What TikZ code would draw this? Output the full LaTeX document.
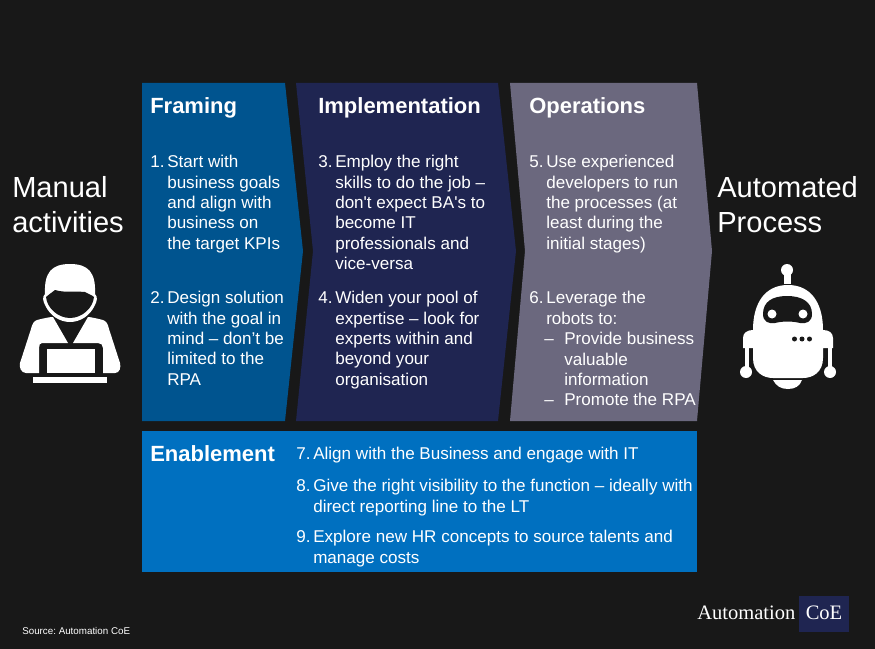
\documentclass[tikz,border=0pt]{standalone}
\usepackage{fontspec}
\setmainfont{Liberation Sans}
\newfontfamily\logofont{Liberation Serif}
\newfontfamily\plainfont{Liberation Sans}
\newcommand{\sq}{{\plainfont'}}
\frenchspacing
\definecolor{bgdark}{HTML}{181818}
\definecolor{frameblue}{HTML}{00548F}
\definecolor{implnavy}{HTML}{1F2551}
\definecolor{opsgrey}{HTML}{6B687E}
\definecolor{enableblue}{HTML}{0070C0}
\tikzset{
  headtext/.style={text=white,inner sep=0pt,anchor=base west,font=\fontsize{16.5}{19}\selectfont\bfseries},
  bodytext/.style={text=white,inner sep=0pt,anchor=north west,align=left,font=\fontsize{12.8}{15.3}\selectfont},
  bigtext/.style={text=white,inner sep=0pt,anchor=north west,align=left,font=\fontsize{21.8}{26.2}\selectfont},
}
\begin{document}
\begin{tikzpicture}[x=0.75pt,y=-0.75pt]
  \useasboundingbox (0,0) rectangle (875,649);
  \fill[bgdark] (0,0) rectangle (875,649);
  % the three chevrons and the bar under them
  \fill[frameblue] (142,83)--(285,83)--(303,251)--(285,421)--(142,421)--cycle;
  \fill[implnavy] (296,83)--(498,83)--(516,251)--(498,421)--(296,421)--(313,251)--cycle;
  \fill[opsgrey] (510,83)--(697,83)--(712,251)--(697,421)--(510,421)--(525,251)--cycle;
  \fill[enableblue] (142,431) rectangle (697,572);
  % headings
  \node[headtext] (framing) at (150,114) {Framing};
  \node[headtext] (implementation) at (318,114) {Implementation};
  \node[headtext] (operations) at (529,114) {Operations};
  \node[headtext] (enablement) at (150,461) {Enablement};
  % framing
  \node[bodytext] (num1) at (150,155) {1.};
  \node[bodytext] (item1) at (167,155) {Start with\\business goals\\and align with\\business on\\the target KPIs};
  \node[bodytext] (num2) at (150,291) {2.};
  \node[bodytext] (item2) at (167,291) {Design solution\\with the goal in\\mind -- don't be\\limited to the\\RPA};
  % implementation
  \node[bodytext] (num3) at (318,155) {3.};
  \node[bodytext] (item3) at (335,155) {Employ the right\\skills to do the job --\\don\sq t expect BA\sq s to\\become IT\\professionals and\\vice-versa};
  \node[bodytext] (num4) at (318,291) {4.};
  \node[bodytext] (item4) at (335,291) {Widen your pool of\\expertise -- look for\\experts within and\\beyond your\\organisation};
  % operations
  \node[bodytext] (num5) at (529,155) {5.};
  \node[bodytext] (item5) at (546,155) {Use experienced\\developers to run\\the processes (at\\least during the\\initial stages)};
  \node[bodytext] (num6) at (529,291) {6.};
  \node[bodytext] (item6) at (546,291) {Leverage the\\robots to:};
  \node[bodytext] (dash1) at (544,332) {\vphantom{P}--};
  \node[bodytext] (sub1) at (564,332) {Provide business\\valuable\\information};
  \node[bodytext] (dash2) at (544,393) {\vphantom{P}--};
  \node[bodytext] (sub2) at (564,393) {Promote the RPA};
  % enablement
  \node[bodytext] (num7) at (296,447) {7.};
  \node[bodytext] (item7) at (313,447) {Align with the Business and engage with IT};
  \node[bodytext] (num8) at (296,479) {8.};
  \node[bodytext] (item8) at (313,479) {Give the right visibility to the function -- ideally with\\direct reporting line to the LT};
  \node[bodytext] (num9) at (296,530) {9.};
  \node[bodytext] (item9) at (313,530) {Explore new HR concepts to source talents and\\manage costs};
  % side labels
  \node[bigtext] (manual) at (12,176) {Manual\\activities};
  \node[bigtext] (automated) at (717,176) {Automated\\Process};
  % worker
  \fill[white] (37,320) .. controls (45,318) and (50,317) .. (53,317)--(68,343)--(42,343)
    .. controls (40,343) and (39,345) .. (39,348)--(39,373)--(26,373)
    .. controls (21,373) and (19,367) .. (20,363)--(31,329) .. controls (32,324) and (34,321) .. (37,320)--cycle;
  \fill[white] (103,320) .. controls (95,318) and (90,317) .. (88,317)--(73,343)--(98,343)
    .. controls (101,343) and (103,345) .. (103,348)--(103,373)--(115,373)
    .. controls (120,373) and (121,367) .. (120,363)--(109,329) .. controls (108,324) and (106,321) .. (103,320)--cycle;
  \fill[white] (45,294) .. controls (44,272) and (52,264) .. (70,264) .. controls (88,264) and (96,272) .. (95,294)
    .. controls (98,297) and (97,301) .. (95,305) .. controls (90,316) and (80,322) .. (70,322)
    .. controls (60,322) and (50,316) .. (45,305) .. controls (43,301) and (42,297) .. (45,294)--cycle;
  \fill[bgdark] (46,297) .. controls (48,295) and (50,294) .. (55,290) .. controls (65,293) and (75,291) .. (85,292)
    .. controls (88,294) and (92,295) .. (94,297) .. controls (93,308) and (82,318) .. (70,318)
    .. controls (58,318) and (47,308) .. (46,297)--cycle;
  \fill[white] (47,349) rectangle (95,373);
  \fill[white] (33,377) rectangle (107,383);
  % robot
  \fill[white] (787,270) circle (6);
  \fill[white] (784,270) rectangle (791,284);
  \fill[white] (753,330) .. controls (753,303) and (765,285) .. (788,285) .. controls (811,285) and (823,303) .. (823,330)
    .. controls (829,330) and (833,333) .. (833,338) -- (833,348) -- (823,348) -- (823,358)
    .. controls (823,372) and (813,378) .. (803,378) -- (773,378) .. controls (763,378) and (753,372) .. (753,358)
    -- (753,348) -- (743,348) -- (743,338) .. controls (743,333) and (747,330) .. (753,330) -- cycle;
  \fill[white] (744.5,345) rectangle (748.5,370);
  \fill[white] (827.5,345) rectangle (831.5,370);
  \fill[white] (746,372) circle (6);
  \fill[white] (830,372) circle (6);
  \fill[white] (773,380) .. controls (776,386) and (781,389) .. (788,389) .. controls (795,389) and (800,386) .. (802,380) -- cycle;
  \fill[bgdark] (763,314) .. controls (763,302) and (772,296) .. (787,296) .. controls (802,296) and (812,302) .. (812,314)
    .. controls (812,322) and (806,324) .. (800,323) .. controls (792,321) and (783,321) .. (775,323)
    .. controls (769,324) and (763,322) .. (763,314) -- cycle;
  \fill[white] (772,314) circle (4.5);
  \fill[white] (803,314) circle (4.5);
  \fill[bgdark] (794.5,339) circle (2.5);
  \fill[bgdark] (802,339) circle (2.5);
  \fill[bgdark] (809.5,339) circle (2.5);
  % logo and source
  \fill[implnavy] (799,596) rectangle (849,632);
  \node[inner sep=0pt,anchor=base west,text=white,font=\fontsize{15.4}{18}\selectfont\logofont] (automation) at (697,619) {Automation};
  \node[inner sep=0pt,anchor=base,text=white,font=\fontsize{15.4}{18}\selectfont\logofont] (coe) at (824,619) {CoE};
  \node[inner sep=0pt,anchor=base west,text=white,font=\fontsize{7.35}{9}\selectfont] (source) at (22,634) {Source: Automation CoE};
\end{tikzpicture}
\end{document}
